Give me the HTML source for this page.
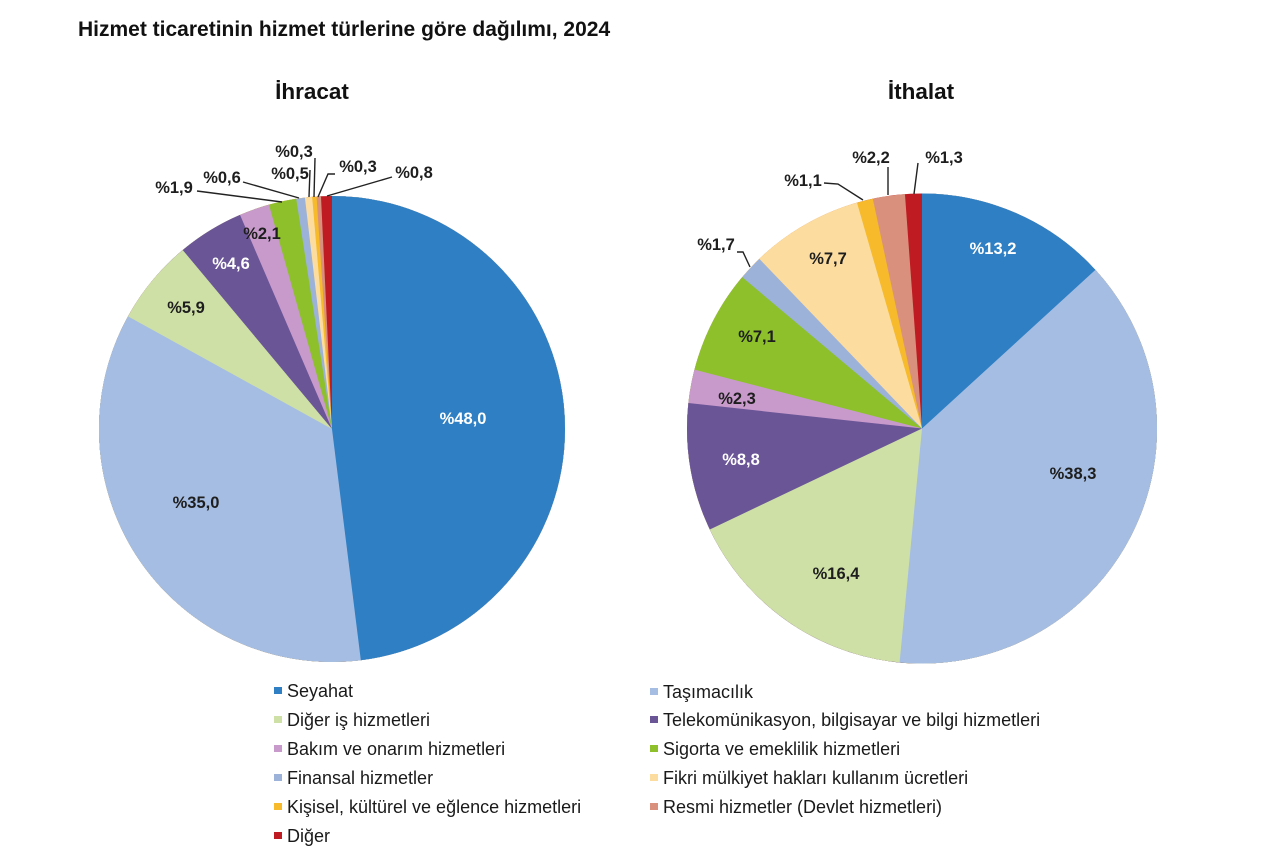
<!DOCTYPE html>
<html>
<head>
<meta charset="utf-8">
<style>
  html,body{margin:0;padding:0;background:#fff;}
  body{width:1280px;height:862px;overflow:hidden;}
  svg{display:block;}
  text{font-family:"Liberation Sans",Arial,sans-serif;}
  .lbl{font-size:16.5px;font-weight:bold;fill:#1e1e1e;text-anchor:middle;}
  .wl{fill:#ffffff;}
  .leg{font-size:18px;fill:#1a1a1a;}
  .ld{stroke:#222;stroke-width:1.4;fill:none;}
</style>
</head>
<body>
<svg width="1280" height="862" viewBox="0 0 1280 862" xmlns="http://www.w3.org/2000/svg">
  <rect width="1280" height="862" fill="#fff"/>
  <text x="78" y="36" style="font-size:21px;font-weight:bold;fill:#111;">Hizmet ticaretinin hizmet türlerine göre dağılımı, 2024</text>

  <text x="312" y="99" style="font-size:22.5px;font-weight:bold;fill:#111;" text-anchor="middle">İhracat</text>
  <text x="921" y="99" style="font-size:22.5px;font-weight:bold;fill:#111;" text-anchor="middle">İthalat</text>

  <!-- LEFT PIE -->
  <g transform="rotate(-90 332 429)" fill="none" stroke-width="233">
    <circle cx="332" cy="429" r="233" fill="#BF1B22" stroke="none"/>
    <circle cx="332" cy="429" r="116.5" stroke="#D9907C" stroke-dasharray="726.135 800"/>
    <circle cx="332" cy="429" r="116.5" stroke="#F6BA2A" stroke-dasharray="723.939 800"/>
    <circle cx="332" cy="429" r="116.5" stroke="#FCDC9F" stroke-dasharray="721.743 800"/>
    <circle cx="332" cy="429" r="116.5" stroke="#9CB2D8" stroke-dasharray="718.083 800"/>
    <circle cx="332" cy="429" r="116.5" stroke="#8DC02B" stroke-dasharray="713.691 800"/>
    <circle cx="332" cy="429" r="116.5" stroke="#C89ACB" stroke-dasharray="699.783 800"/>
    <circle cx="332" cy="429" r="116.5" stroke="#6A5597" stroke-dasharray="684.412 800"/>
    <circle cx="332" cy="429" r="116.5" stroke="#CEE0A6" stroke-dasharray="650.740 800"/>
    <circle cx="332" cy="429" r="116.5" stroke="#A5BDE2" stroke-dasharray="607.553 800"/>
    <circle cx="332" cy="429" r="116.5" stroke="#2E7FC3" stroke-dasharray="351.356 800"/>
  </g>

  <!-- RIGHT PIE -->
  <g transform="rotate(-90 922 428.5)" fill="none" stroke-width="235">
    <circle cx="922" cy="428.5" r="235" fill="#BF1B22" stroke="none"/>
    <circle cx="922" cy="428.5" r="117.5" stroke="#D9907C" stroke-dasharray="729.415 800"/>
    <circle cx="922" cy="428.5" r="117.5" stroke="#F6BA2A" stroke-dasharray="713.173 800"/>
    <circle cx="922" cy="428.5" r="117.5" stroke="#FCDC9F" stroke-dasharray="705.052 800"/>
    <circle cx="922" cy="428.5" r="117.5" stroke="#9CB2D8" stroke-dasharray="648.205 800"/>
    <circle cx="922" cy="428.5" r="117.5" stroke="#8DC02B" stroke-dasharray="635.654 800"/>
    <circle cx="922" cy="428.5" r="117.5" stroke="#C89ACB" stroke-dasharray="583.236 800"/>
    <circle cx="922" cy="428.5" r="117.5" stroke="#6A5597" stroke-dasharray="566.256 800"/>
    <circle cx="922" cy="428.5" r="117.5" stroke="#CEE0A6" stroke-dasharray="501.288 800"/>
    <circle cx="922" cy="428.5" r="117.5" stroke="#A5BDE2" stroke-dasharray="380.211 800"/>
    <circle cx="922" cy="428.5" r="117.5" stroke="#2E7FC3" stroke-dasharray="97.452 800"/>
  </g>

  <!-- LEFT leaders -->
  <line class="ld" x1="197" y1="191" x2="282" y2="202"/>
  <line class="ld" x1="243" y1="182" x2="299" y2="198"/>
  <line class="ld" x1="310" y1="170" x2="309" y2="197"/>
  <line class="ld" x1="315" y1="158" x2="314" y2="197"/>
  <polyline class="ld" points="318,197 328,174 335,174"/>
  <line class="ld" x1="392" y1="177" x2="327" y2="196"/>

  <!-- LEFT labels -->
  <text class="lbl wl" x="463" y="424">%48,0</text>
  <text class="lbl" x="196" y="508">%35,0</text>
  <text class="lbl" x="186" y="313">%5,9</text>
  <text class="lbl wl" x="231" y="269">%4,6</text>
  <text class="lbl" x="262" y="239">%2,1</text>
  <text class="lbl" x="174" y="193">%1,9</text>
  <text class="lbl" x="222" y="183">%0,6</text>
  <text class="lbl" x="290" y="179">%0,5</text>
  <text class="lbl" x="294" y="157">%0,3</text>
  <text class="lbl" x="358" y="172">%0,3</text>
  <text class="lbl" x="414" y="178">%0,8</text>

  <!-- RIGHT leaders -->
  <polyline class="ld" points="737,252 743,252 750,267"/>
  <polyline class="ld" points="824,183 838,184 863,200"/>
  <line class="ld" x1="888" y1="167" x2="888" y2="195"/>
  <line class="ld" x1="918" y1="163" x2="914" y2="194"/>

  <!-- RIGHT labels -->
  <text class="lbl wl" x="993" y="254">%13,2</text>
  <text class="lbl" x="1073" y="479">%38,3</text>
  <text class="lbl" x="836" y="579">%16,4</text>
  <text class="lbl wl" x="741" y="465">%8,8</text>
  <text class="lbl" x="737" y="404">%2,3</text>
  <text class="lbl" x="757" y="342">%7,1</text>
  <text class="lbl" x="828" y="264">%7,7</text>
  <text class="lbl" x="716" y="250">%1,7</text>
  <text class="lbl" x="803" y="186">%1,1</text>
  <text class="lbl" x="871" y="163">%2,2</text>
  <text class="lbl" x="944" y="163">%1,3</text>

  <!-- LEGEND left column -->
  <rect x="274" y="687" width="8" height="7" fill="#2E7FC3"/>
  <text class="leg" x="287" y="697">Seyahat</text>
  <rect x="274" y="716" width="8" height="7" fill="#CEE0A6"/>
  <text class="leg" x="287" y="726">Diğer iş hizmetleri</text>
  <rect x="274" y="745" width="8" height="7" fill="#C89ACB"/>
  <text class="leg" x="287" y="755">Bakım ve onarım hizmetleri</text>
  <rect x="274" y="774" width="8" height="7" fill="#9CB2D8"/>
  <text class="leg" x="287" y="784">Finansal hizmetler</text>
  <rect x="274" y="803" width="8" height="7" fill="#F6BA2A"/>
  <text class="leg" x="287" y="813">Kişisel, kültürel ve eğlence hizmetleri</text>
  <rect x="274" y="832" width="8" height="7" fill="#BF1B22"/>
  <text class="leg" x="287" y="842">Diğer</text>

  <!-- LEGEND right column -->
  <rect x="650" y="688" width="8" height="7" fill="#A5BDE2"/>
  <text class="leg" x="663" y="698">Taşımacılık</text>
  <rect x="650" y="716" width="8" height="7" fill="#6A5597"/>
  <text class="leg" x="663" y="726">Telekomünikasyon, bilgisayar ve bilgi hizmetleri</text>
  <rect x="650" y="745" width="8" height="7" fill="#8DC02B"/>
  <text class="leg" x="663" y="755">Sigorta ve emeklilik hizmetleri</text>
  <rect x="650" y="774" width="8" height="7" fill="#FCDC9F"/>
  <text class="leg" x="663" y="784">Fikri mülkiyet hakları kullanım ücretleri</text>
  <rect x="650" y="803" width="8" height="7" fill="#D9907C"/>
  <text class="leg" x="663" y="813">Resmi hizmetler (Devlet hizmetleri)</text>
</svg>
</body>
</html>
